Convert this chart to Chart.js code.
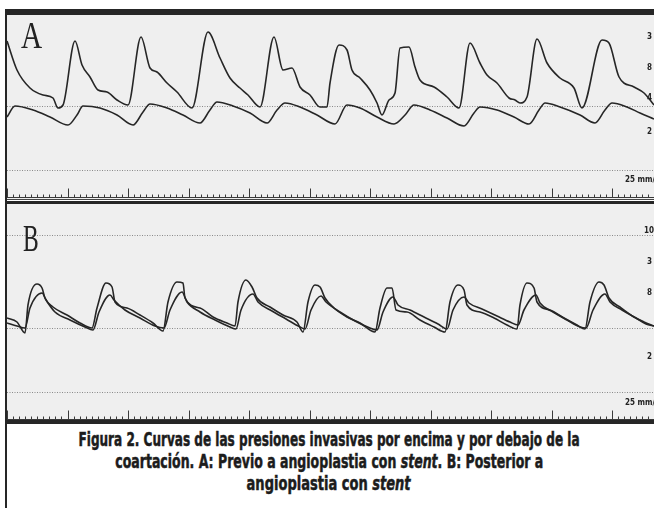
<!DOCTYPE html>
<html>
<head>
<meta charset="utf-8">
<script src="https://cdn.jsdelivr.net/npm/chart.js@4.4.1/dist/chart.umd.min.js"></script>
<style>
    body { margin: 0; width: 654px; height: 508px; background: #fff; position: relative; overflow: hidden; }
    .bar { position: absolute; background: #262626; }
    .panel { position: absolute; left: 7px; width: 647px; background: #efefef; }
    .panel canvas { position: absolute; left: 0; top: 0; }
    .letra { position: absolute; font-family: 'Liberation Serif', serif; font-size: 38px; color: #222; line-height: 38px; transform-origin: left top; }
    #caption { position: absolute; left: 0; top: 428px; width: 654px;
               font-family: 'DejaVu Sans Condensed', 'DejaVu Sans', sans-serif; font-weight: bold;
               font-size: 19px; line-height: 22px; color: #1c1c1c; -webkit-text-stroke: 0.5px #1c1c1c; }
    #caption div { display: flex; justify-content: center; white-space: nowrap; padding-left: 4px; }
    #caption span.l { display: inline-block; flex: none; transform-origin: center top; }
</style>
</head>
<body>
<div class="panel" id="pa" style="top:15px;height:184px"><canvas id="chartA" width="647" height="184"></canvas></div>
<div class="panel" id="pb" style="top:204px;height:216px"><canvas id="chartB" width="647" height="216"></canvas></div>

<div class="bar" style="left:5px;top:9px;width:649px;height:6px"></div>
<div class="bar" style="left:5px;top:9px;width:2px;height:499px"></div>
<div class="bar" style="left:7px;top:199px;width:647px;height:1px;background:#444"></div>
<div class="bar" style="left:7px;top:201px;width:647px;height:3px"></div>
<div class="bar" style="left:7px;top:420px;width:647px;height:4px"></div>

<div class="letra" style="left:21px;top:16px;transform:scaleX(0.77)">A</div>
<div class="letra" style="left:23px;top:219px;transform:scaleX(0.62)">B</div>

<div id="caption">
    <div><span class="l" data-w="501">Figura 2. Curvas de las presiones invasivas por encima y por debajo de la</span></div>
    <div><span class="l" data-w="428">coartación. A: Previo a angioplastia con <i>stent</i>. B: Posterior a</span></div>
    <div><span class="l" data-w="164">angioplastia con <i>stent</i></span></div>
</div>

<script>
// tiempo en segundos, presión en mmHg (lectura aproximada de la figura)

// A: presión por encima de la coartación
const tSuperiorA = [0.00, 0.165, 0.38, 0.595, 0.76, 0.843, 0.926, 1.124, 1.24, 1.372, 1.504, 1.653, 1.818, 2.0,
    2.215, 2.364, 2.479, 2.645, 2.81, 3.058, 3.322, 3.521, 3.686, 3.851, 3.983, 4.182, 4.413, 4.562, 4.711,
    4.843, 5.008, 5.174, 5.289, 5.339, 5.488, 5.62, 5.702, 5.835, 6.0, 6.116, 6.198, 6.314, 6.413, 6.496,
    6.645, 6.744, 6.826, 7.058, 7.273, 7.471, 7.653, 7.818, 7.934, 8.099, 8.298, 8.397, 8.479, 8.595, 8.76,
    8.926, 9.14, 9.372, 9.504, 9.835, 9.95, 10.116, 10.364, 10.529, 10.694];
const pSuperiorA = [156, 127, 109, 102, 99, 89, 92, 156, 132, 120, 107, 105, 97, 92,
    160, 129, 125, 114, 105, 89, 165, 139, 119, 109, 102, 90, 160, 127, 129,
    110, 102, 90, 90, 114, 152, 147, 127, 119, 107, 94, 82, 97, 104, 149,
    150, 130, 117, 110, 100, 89, 154, 134, 122, 114, 99, 97, 94, 100, 158,
    134, 119, 109, 89, 157, 154, 120, 110, 104, 92];

// A: presión por debajo de la coartación
const tInferiorA = [0, 0.132, 0.43, 0.711, 1.008, 1.157, 1.256, 1.537, 1.818, 2.083, 2.248, 2.364, 2.645, 2.909,
    3.19, 3.355, 3.471, 3.736, 4.017, 4.298, 4.463, 4.595, 4.843, 5.124, 5.421, 5.62, 5.835, 6.116, 6.397,
    6.579, 6.727, 6.992, 7.273, 7.554, 7.719, 7.818, 8.099, 8.38, 8.628, 8.793, 8.893, 9.14, 9.471, 9.719,
    9.884, 10.0, 10.248, 10.463, 10.694];
const pInferiorA = [80, 91, 87, 80, 72, 82, 91, 89, 82, 72, 85, 93, 89, 82,
    74, 87, 95, 91, 84, 74, 87, 94, 90, 82, 73, 92, 89, 80, 73,
    82, 92, 87, 79, 71, 84, 90, 87, 80, 73, 87, 94, 90, 82, 74,
    87, 94, 90, 84, 78];

// B: presión por encima (tras stent)
const tSuperiorB = [0, 0.165, 0.298, 0.347, 0.496, 0.579, 0.628, 0.76, 0.992, 1.207, 1.405, 1.488, 1.636, 1.736,
    1.785, 1.983, 2.198, 2.413, 2.579, 2.661, 2.81, 2.909, 2.942, 3.19, 3.405, 3.636, 3.769, 3.818, 3.95,
    4.05, 4.132, 4.347, 4.562, 4.793, 4.893, 4.975, 5.091, 5.174, 5.256, 5.405, 5.62, 5.835, 6.083, 6.165,
    6.281, 6.364, 6.43, 6.612, 6.826, 7.058, 7.24, 7.322, 7.455, 7.554, 7.603, 7.818, 8.05, 8.264, 8.43,
    8.479, 8.595, 8.711, 8.76, 8.975, 9.207, 9.421, 9.554, 9.636, 9.785, 9.868, 9.95, 10.132, 10.364,
    10.529, 10.694];
const pSuperiorB = [101, 97, 86, 114, 135, 131, 121, 112, 104, 96, 91, 111, 136, 132,
    117, 111, 104, 96, 88, 117, 137, 136, 121, 111, 102, 96, 93, 117, 139,
    132, 121, 112, 104, 97, 87, 117, 134, 132, 121, 111, 102, 96, 87, 111,
    131, 131, 109, 107, 99, 92, 87, 117, 134, 129, 114, 107, 101, 94, 90,
    114, 136, 131, 117, 109, 101, 94, 90, 117, 137, 134, 121, 112, 102,
    97, 93];

// B: presión por debajo (tras stent)
const tInferiorB = [0, 0.165, 0.298, 0.38, 0.579, 0.645, 0.793, 1.041, 1.289, 1.421, 1.521, 1.702, 1.769, 1.95,
    2.198, 2.446, 2.595, 2.694, 2.893, 2.975, 3.19, 3.438, 3.686, 3.785, 3.868, 4.066, 4.149, 4.38, 4.612,
    4.843, 4.926, 5.025, 5.19, 5.273, 5.504, 5.752, 6.0, 6.116, 6.215, 6.38, 6.463, 6.661, 6.893, 7.124,
    7.273, 7.372, 7.554, 7.636, 7.851, 8.099, 8.314, 8.446, 8.545, 8.744, 8.81, 9.025, 9.256, 9.471, 9.57,
    9.686, 9.884, 9.967, 10.165, 10.397, 10.562, 10.694];
const pInferiorB = [96, 93, 91, 111, 126, 119, 107, 99, 92, 89, 107, 124, 119, 109,
    101, 93, 91, 109, 127, 117, 107, 99, 92, 90, 109, 125, 117, 108, 100,
    92, 90, 109, 123, 117, 107, 98, 91, 89, 107, 122, 114, 109, 102, 95,
    90, 109, 122, 116, 110, 103, 97, 94, 109, 124, 116, 107, 99, 92, 91,
    109, 125, 117, 109, 101, 95, 93];

// líneas punteadas y rótulos cortados del borde derecho
const punteadasA = [91, 27];
const punteadasB = [184, 91, 27];
const rotulosA = ['3', '8', '4', '2'];
const nivelesRotA = [160, 129, 99, 65];
const rotulosB = ['10', '3', '8', '2'];
const nivelesRotB = [188, 157, 126, 62];
const velocidad = '25 mm/s';

const colorTrazo = '#262626';

function puntos(t, p) {
    return t.map((v, i) => ({ x: v, y: p[i] }));
}

// regla de tiempo, punteadas y rótulos dibujados con las escalas del gráfico
const papel = {
    id: 'papel',
    beforeDatasetsDraw(chart, args, opts) {
        const ctx = chart.ctx, x = chart.scales.x, y = chart.scales.y;
        ctx.save();
        ctx.strokeStyle = '#8a8a8a';
        ctx.lineWidth = 1;
        ctx.setLineDash([1, 1.5]);
        opts.punteadas.forEach(v => {
            const py = Math.round(y.getPixelForValue(v)) + 0.5;
            ctx.beginPath();
            ctx.moveTo(0, py);
            ctx.lineTo(chart.width, py);
            ctx.stroke();
        });
        ctx.setLineDash([]);

        // regla: base y marcas cada 0,1 s, mayores cada 1 s
        const base = Math.round(y.getPixelForValue(0)) + 0.5;
        ctx.strokeStyle = '#3a3a3a';
        ctx.beginPath();
        ctx.moveTo(0, base);
        ctx.lineTo(chart.width, base);
        ctx.stroke();
        for (let i = 0; i <= Math.floor(x.max * 10); i++) {
            const px = Math.round(x.getPixelForValue(i / 10)) + 0.5;
            const largo = i % 10 === 0 ? 9 : 3;
            ctx.beginPath();
            ctx.moveTo(px, base);
            ctx.lineTo(px, base - largo);
            ctx.stroke();
        }

        ctx.fillStyle = '#222';
        ctx.font = 'bold 8px "DejaVu Sans Condensed"';
        ctx.textBaseline = 'middle';
        opts.rotulos.forEach((r, i) => {
            ctx.fillText(r, r.length > 1 ? 637 : 640, y.getPixelForValue(opts.niveles[i]));
        });
        ctx.fillText(velocidad, 618, y.getPixelForValue(opts.nivelVel));
        ctx.restore();
    }
};

function crear(id, series, ymin, ymax, opciones) {
    new Chart(document.getElementById(id), {
        type: 'line',
        data: {
            datasets: series.map(s => ({
                data: s,
                borderColor: colorTrazo,
                borderWidth: 1.6,
                pointRadius: 0,
                cubicInterpolationMode: 'monotone',
                fill: false
            }))
        },
        options: {
            responsive: false,
            animation: false,
            layout: { padding: 0 },
            plugins: { legend: { display: false }, tooltip: { enabled: false }, papel: opciones },
            scales: {
                x: { type: 'linear', min: 0, max: 10.694, display: false },
                y: { min: ymin, max: ymax, display: false }
            }
        },
        plugins: [papel]
    });
}

crear('chartA', [puntos(tSuperiorA, pSuperiorA), puntos(tInferiorA, pInferiorA)], -2, 182,
    { punteadas: punteadasA, rotulos: rotulosA, niveles: nivelesRotA, nivelVel: 17 });
crear('chartB', [puntos(tSuperiorB, pSuperiorB), puntos(tInferiorB, pInferiorB)], -1, 215,
    { punteadas: punteadasB, rotulos: rotulosB, niveles: nivelesRotB, nivelVel: 16 });

// ajustar el ancho de cada renglón del pie al de la figura
document.querySelectorAll('#caption span.l').forEach(s => {
    const w = s.getBoundingClientRect().width;
    s.style.transform = 'scaleX(' + (parseFloat(s.dataset.w) / w) + ')';
});
</script>
</body>
</html>
